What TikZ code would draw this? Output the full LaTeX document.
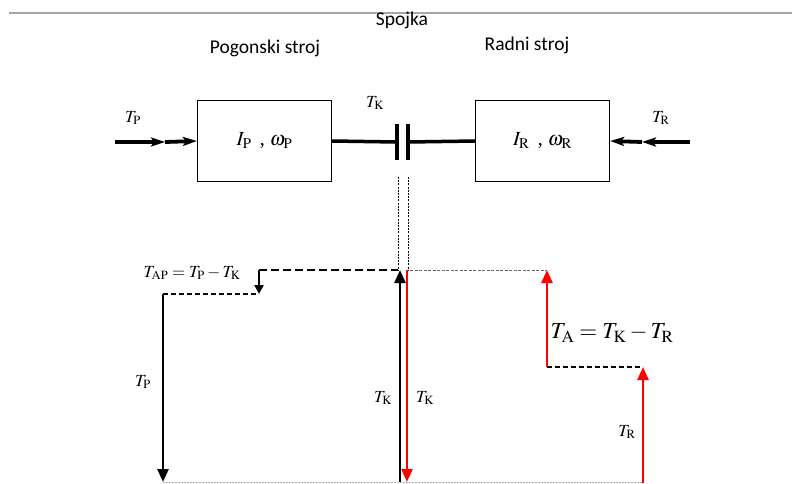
\documentclass[tikz,border=0pt]{standalone}
\usepackage{mathptmx}
\usepackage{fontspec}
\setmainfont{Liberation Serif}
\setsansfont{Carlito}
\usetikzlibrary{arrows.meta}

\def\osovina{142}
\def\vrh{270}
\def\dno{482}
\tikzset{
   blok/.style={draw=black, line width=1.2pt, minimum width=134pt, minimum height=81pt, font=\fontsize{20}{24}\selectfont},
   naslov/.style={font=\sffamily\fontsize{19.5}{23}\selectfont},
   oznaka/.style={font=\fontsize{17}{20}\selectfont, inner sep=1pt},
   vratilo/.style={line width=3.5pt},
   ploca/.style={line width=3.5pt},
   ulaz/.style={line width=3.8pt, -{Stealth[length=14pt,width=9pt,inset=3pt]}},
   moment/.style={line width=2.6pt, -{Triangle[length=13pt,width=11pt]}},
   malimoment/.style={line width=2.2pt, -{Triangle[length=9pt,width=9pt]}},
   crta/.style={black, line width=1.6pt, dash pattern=on 8pt off 4pt},
   kratkacrta/.style={black, line width=1.5pt, dash pattern=on 5pt off 3pt},
   tankacrta/.style={black!60, line width=0.8pt, dash pattern=on 3pt off 1.5pt},
   tocke/.style={black, line width=1pt, dash pattern=on 2pt off 1.2pt}
}

\begin{document}
\begin{tikzpicture}[x=1pt, y=-1pt]
\useasboundingbox (0,0) rectangle (792,483);
% sjena gornjeg ruba
\draw[black!35, line width=1.5pt] (9,13) -- (792,13);

% naslovi
\node[naslov] (spojka) at (402,20) {Spojka};
\node[naslov] (pogonski) at (265,48) {Pogonski stroj};
\node[naslov] (radni) at (527,45) {Radni stroj};

% blokovi
\node[blok] (pogon) at (264.5,141) {$I_{\mathrm{P}}$\, , $\omega_{\mathrm{P}}$};
\node[blok] (rad) at (542.5,141) {$I_{\mathrm{R}}$\, , $\omega_{\mathrm{R}}$};

% ulazni momenti
\coordinate (tpin) at (115,\osovina);
\coordinate (tpsr) at (165,\osovina);
\coordinate (trin) at (690,\osovina);
\coordinate (trsr) at (642,\osovina);
\draw[ulaz] (tpin) -- (tpsr);
\draw[ulaz] (tpsr) -- (pogon.west);
\draw[ulaz] (trin) -- (trsr);
\draw[ulaz] (trsr) -- (rad.east);
\node[oznaka] (tp) at (133,118) {$T_{\mathrm{P}}$};
\node[oznaka] (tr) at (661,118) {$T_{\mathrm{R}}$};

% spojka
\coordinate (k1) at (397,\osovina);
\coordinate (k2) at (408,\osovina);
\draw[vratilo] (pogon.east) -- (k1);
\draw[vratilo] (k2) -- (rad.west);
\draw[ploca] (397,124) -- (397,160);
\draw[ploca] (408,124) -- (408,160);
\node[oznaka] (tk) at (375,103) {$T_{\mathrm{K}}$};
\draw[tocke] (398,177) -- (398,\vrh);
\draw[tocke] (408,177) -- (408,\vrh);

% lijeva strana
\coordinate (kg) at (400,\vrh);
\coordinate (kd) at (400,\dno);
\coordinate (a1) at (259,\vrh);
\coordinate (a2) at (259,294);
\coordinate (p1) at (163,294);
\coordinate (p2) at (163,\dno);
\draw[crta] (a1) -- (398,\vrh);
\draw[kratkacrta] (p1) -- (a2);
\draw[malimoment] (a1) -- (a2);
\draw[moment] (p1) -- (p2);
\draw[moment] (kd) -- (kg);
\node[oznaka] (tap) at (192,273) {$T_{\mathrm{AP}}=T_{\mathrm{P}}-T_{\mathrm{K}}$};
\node[oznaka] (tpl) at (143,382) {$T_{\mathrm{P}}$};
\node[oznaka] (tkl) at (383,398) {$T_{\mathrm{K}}$};

% desna strana
\coordinate (rg) at (407,\vrh);
\coordinate (rd) at (407,\dno);
\coordinate (b1) at (547,\vrh);
\coordinate (b2) at (547,367);
\coordinate (c1) at (643,367);
\coordinate (c2) at (643,483);
\draw[tankacrta] (410,\vrh) -- (b1);
\draw[kratkacrta] (b2) -- (c1);
\draw[moment, red] (rg) -- (rd);
\draw[moment, red] (b2) -- (b1);
\draw[moment, red] (c2) -- (c1);
\node[oznaka] (tkd) at (425,398) {$T_{\mathrm{K}}$};
\node[oznaka, font=\fontsize{23}{26}\selectfont] (ta) at (612,333) {$T_{\mathrm{A}}=T_{\mathrm{K}}-T_{\mathrm{R}}$};
\node[oznaka] (trd) at (627,432) {$T_{\mathrm{R}}$};

% osnovica
\draw[black!30, line width=0.8pt, dash pattern=on 2pt off 1pt] (p2) -- (643,\dno);
\end{tikzpicture}
\end{document}
